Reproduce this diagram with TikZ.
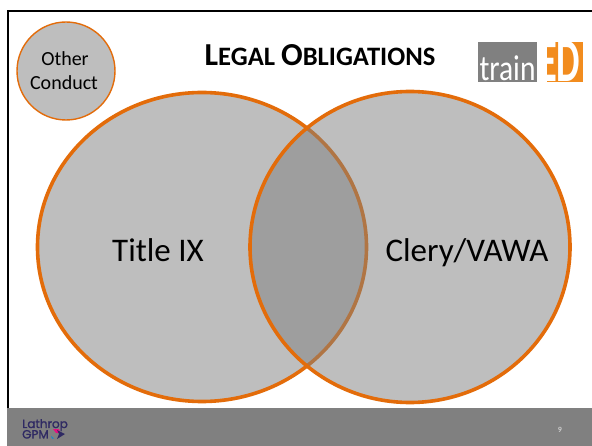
\documentclass[tikz,border=0pt]{standalone}
\usepackage{fontspec}
\setmainfont{Carlito}
\newfontfamily\logofont[FakeBold=1.5]{Poppins}
\usetikzlibrary{shapes.geometric}
\definecolor{venn}{HTML}{E36C0A}
\definecolor{vennfill}{HTML}{7F7F7F}
\definecolor{footer}{HTML}{808080}
\definecolor{lg}{HTML}{F28C1E}
\definecolor{lathrop}{HTML}{2F2A63}
\tikzset{
  x=1pt,y=-1pt,
  venncircle/.style={ellipse,inner sep=0pt,minimum width=#1,draw=venn,line width=3.6pt,fill=vennfill,fill opacity=.5,draw opacity=1},
  label/.style={text=black,font=\fontsize{33}{36}\selectfont,inner sep=0pt,anchor=base},
}
\begin{document}
\begin{tikzpicture}
\useasboundingbox (0,0) rectangle (592,446);
\fill[white] (0,0) rectangle (592,446);
\coordinate (frameTL) at (8,11);
\coordinate (frameTR) at (592,11);
\coordinate (frameBL) at (8,446);
\draw[black,line width=2.6pt] (frameBL) -- (frameTL) -- (frameTR);
\node[rectangle,fill=footer,minimum width=585pt,minimum height=38pt,inner sep=0pt,anchor=north west] (foot) at (7,408) {};
\node[venncircle=329pt,minimum height=309pt] (titleix) at (202,247) {};
\node[venncircle=320pt,minimum height=311pt] (clery) at (410,247) {};
\node[label] (t1) at (158,262) {Title IX};
\node[label] (t2) at (467,262) {Clery/VAWA};
\node[circle,inner sep=0pt,minimum size=98pt,draw=venn,line width=1.4pt,fill=vennfill,fill opacity=.5,draw opacity=1] (other) at (66,71) {};
\node[font=\fontsize{20}{23}\selectfont,inner sep=0pt,anchor=base] (otherA) at (65,66) {Other};
\node[font=\fontsize{20}{23}\selectfont,inner sep=0pt,anchor=base] (otherB) at (64,90) {Conduct};
\node[font=\bfseries,inner sep=0pt,anchor=base] (title) at (320,66) {{\fontsize{32}{32}\selectfont L}{\fontsize{26.6}{32}\selectfont EGAL }{\fontsize{32}{32}\selectfont O}{\fontsize{26.6}{32}\selectfont BLIGATIONS}};
% logo
\node[rectangle,fill=black!50,minimum width=59pt,minimum height=40pt,inner sep=0pt,anchor=north west] (logoA) at (478,42) {};
\node[rectangle,fill=lg,minimum width=36pt,minimum height=40pt,inner sep=0pt,anchor=north west] (logoB) at (547,42) {};
\node[text=white,font=\fontsize{36}{36}\selectfont,inner sep=0pt,anchor=base] (logotrain) at (507.5,81) {\scalebox{.82}[1]{train}};
\begin{scope}
\clip (537,42) rectangle (583,82);
\node[text=white,font=\bfseries\fontsize{62}{62}\selectfont,inner sep=0pt,anchor=base west] (logoE) at (540,82) {\scalebox{.55}[1]{E}};
\node[text=white,font=\bfseries\fontsize{62}{62}\selectfont,inner sep=0pt,anchor=base west] (logoD) at (556,82) {\scalebox{.6}[1]{D}};
\end{scope}
% footer
\node[font=\logofont\fontsize{12}{12}\selectfont,text=lathrop,inner sep=0pt,anchor=base west] (lathrop) at (22,428) {Lathrop};
\node[font=\logofont\fontsize{12}{12}\selectfont,text=lathrop,inner sep=0pt,anchor=base west] (gpm) at (22,438.5) {GPM};
\fill[magenta!80!purple] (53,429) -- (59,429) -- (60,433) -- (56,433) -- cycle;
\fill[lathrop] (57,430) -- (65,434) -- (57,439) -- (59,434) -- cycle;
\fill[cyan!70!blue] (51,436) -- (54,438.5) -- (52,438.5) -- cycle;
\node[text=white!80!black,font=\bfseries\fontsize{8}{8}\selectfont,inner sep=0pt] (pagenum) at (560,430) {9};
\end{tikzpicture}
\end{document}
